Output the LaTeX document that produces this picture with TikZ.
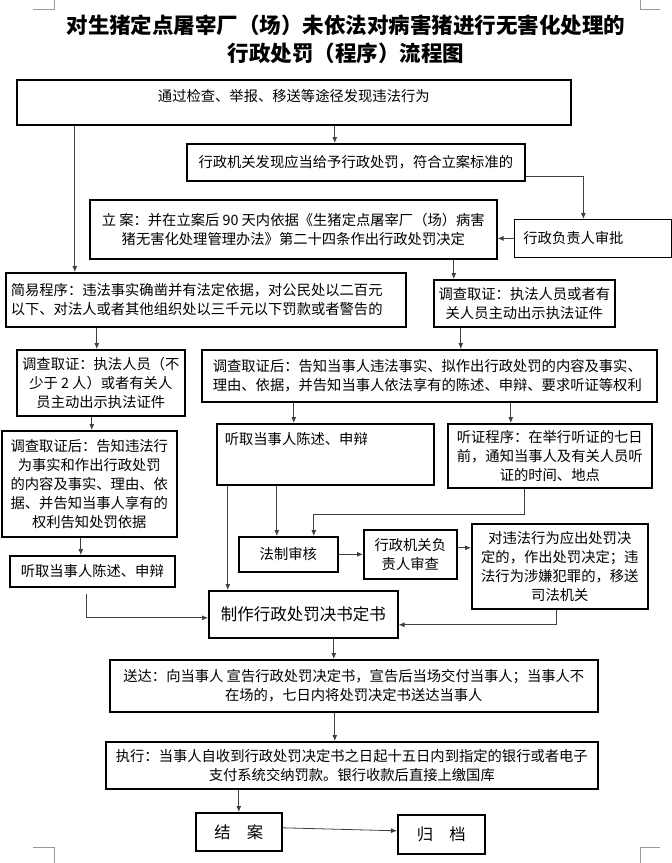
\documentclass[tikz,border=0pt]{standalone}
\usepackage{fontspec}
\setmainfont{Noto Sans CJK SC}
\usepackage{tikz}
\usetikzlibrary{%
  arrows.meta%
}

\begin{document}
\begin{tikzpicture}[x=1pt,y=-1pt,
    box/.style={draw=black,line width=1.6pt,anchor=north west,align=center,
      inner sep=2pt,font=\fontsize{14.3pt}{19pt}\selectfont},
    thinbox/.style={box,line width=0.8pt},
    arr/.style={draw=black!75,line width=0.8pt,-{Latex[length=6pt,width=5pt]}}]
      \useasboundingbox (0,0) rectangle (672,863);
      % page corner marks
      \draw [black!40,line width=0.6pt] (33,9) -- (54,9) -- (54,0) (660,9) -- (640,9) -- (640,0);
      \draw [black!40,line width=0.6pt] (33,847) -- (54,847) -- (54,863) (660,847) -- (640,847) -- (640,863);
      \node [align=center,font=\fontsize{21.5pt}{28pt}\selectfont\bfseries] (title) at (346,39)
        {对生猪定点屠宰厂（场）未依法对病害猪进行无害化处理的\\行政处罚（程序）流程图};
      \node [box,minimum width=554pt,inner ysep=0pt,text height=21.5pt,text depth=23.5pt] (find) at (16,79)
        {通过检查、举报、移送等途径发现违法行为};
      \node [box,minimum width=338pt,minimum height=37pt] (found) at (186,143)
        {行政机关发现应当给予行政处罚，符合立案标准的};
      \node [thinbox,minimum height=38pt,text width=139pt,inner xsep=9pt,align=left] (approve) at (514,219)
        {行政负责人审批};
      \node [box,minimum width=407pt,minimum height=59pt] (filing) at (89,199)
        {立\ 案：并在立案后 90 天内依据《生猪定点屠宰厂（场）病害\\猪无害化处理管理办法》第二十四条作出行政处罚决定};
      \node [box,minimum height=54pt,text width=390pt,inner xsep=5pt,align=left] (simple) at (5,272)
        {简易程序：违法事实确凿并有法定依据，对公民处以二百元\\以下、对法人或者其他组织处以三千元以下罚款或者警告的};
      \node [box,minimum width=181pt,minimum height=47pt] (invest) at (433,279)
        {调查取证：执法人员或者有\\关人员主动出示执法证件};
      \node [box,minimum width=168pt,minimum height=66pt] (invest2) at (16,349)
        {调查取证：执法人员（不\\少于 2 人）或者有关人\\员主动出示执法证件};
      \node [box,minimum height=52pt,text width=433pt,inner xsep=11pt,align=left] (notify) at (201,349)
        {调查取证后：告知当事人违法事实、拟作出行政处罚的内容及事实、\\理由、依据，并告知当事人依法享有的陈述、申辩、要求听证等权利};
      \node [box,minimum width=175pt,minimum height=106pt] (notify2) at (1,430)
        {调查取证后：告知违法行\\为事实和作出行政处罚\\的内容及事实、理由、依\\据、并告知当事人享有的\\权利告知处罚依据};
      \node [box,minimum width=165pt,minimum height=31pt] (hear2) at (9,555) {听取当事人陈述、申辩};
      \node [box,text width=201pt,inner xsep=8pt,align=left,inner ysep=0pt,text height=20.5pt,text depth=40.5pt] (hear) at (216,423)
        {听取当事人陈述、申辩};
      \node [box,minimum width=204pt,minimum height=64pt] (hearing) at (447,423)
        {听证程序：在举行听证的七日\\前，通知当事人及有关人员听\\证的时间、地点};
      \node [box,minimum width=99pt,minimum height=35pt] (legal) at (238,536) {法制审核};
      \node [box,minimum width=93pt,minimum height=49pt] (chief) at (363,529) {行政机关负\\责人审查};
      \node [box,minimum width=176pt,minimum height=85pt] (decide) at (471,523)
        {对违法行为应出处罚决\\定的，作出处罚决定；违\\法行为涉嫌犯罪的，移送\\司法机关};
      \node [box,minimum width=189pt,minimum height=47pt,font=\fontsize{16.5pt}{20pt}\selectfont] (make) at (208,590)
        {制作行政处罚决书定书};
      \node [box,minimum width=488pt,minimum height=52pt] (deliver) at (109,659)
        {送达：向当事人 宣告行政处罚决定书，宣告后当场交付当事人；当事人不\\在场的，七日内将处罚决定书送达当事人};
      \node [box,minimum width=492pt,minimum height=47pt] (execute) at (105,741)
        {执行：当事人自收到行政处罚决定书之日起十五日内到指定的银行或者电子\\支付系统交纳罚款。银行收款后直接上缴国库};
      \node [box,minimum width=86pt,minimum height=38pt,font=\fontsize{16.3pt}{20pt}\selectfont] (close) at (195,812) {结　案};
      \node [box,minimum width=87pt,minimum height=39pt,font=\fontsize{16.3pt}{20pt}\selectfont] (archive) at (397,814) {归　档};
      % connectors
      \draw [arr] ([xshift=-21pt]found.north |- find.south) -- ([xshift=-21pt]found.north);
      \draw [arr] ([yshift=-14.5pt]found.east) -| ([xshift=-9.5pt]approve.north);
      \draw [arr] (approve.west) -- (approve.west -| filing.east);
      \draw [arr] ([xshift=-131pt]simple.north |- find.south) -- ([xshift=-131pt]simple.north);
      \draw [arr] ([xshift=-70.5pt]invest.north |- filing.south) -- ([xshift=-70.5pt]invest.north);
      \draw [arr] ([xshift=-4pt]invest2.north |- simple.south) -- ([xshift=-4pt]invest2.north);
      \draw [arr] ([xshift=-63.5pt]invest.south) -- ([xshift=-63.5pt]invest.south |- notify.north);
      \draw [arr] ([xshift=-9pt]invest2.south) -- ([xshift=-9pt]invest2.south |- notify2.north);
      \draw [arr] ([xshift=-8.5pt]notify2.south) -- ([xshift=-8.5pt]notify2.south |- hear2.north);
      \draw [arr] ([xshift=-5.5pt,yshift=-6pt]hear2.south) |- ([yshift=-3.5pt]make.west);
      \draw [arr] ([xshift=-31.5pt]hear.north |- notify.south) -- ([xshift=-31.5pt]hear.north);
      \draw [arr] ([xshift=-39pt]hearing.north |- notify.south) -- ([xshift=-39pt]hearing.north);
      \draw [arr] ([xshift=-97.5pt]hear.south) -- ([xshift=-97.5pt]hear.south |- make.north);
      \draw [arr] ([xshift=-48.5pt]hear.south) -- ([xshift=-48.5pt]hear.south |- legal.north);
      \draw [arr] ([xshift=-25pt]hearing.south) -- ++(0,26) -| ([xshift=25.5pt]legal.north);
      \draw [arr] (legal.east) -- (chief.west);
      \draw [arr] ([yshift=6.5pt]chief.east) -- ([yshift=6.5pt]chief.east -| decide.west);
      \draw [arr] ([xshift=-3pt]decide.south) |- ([yshift=-10.5pt]make.east);
      \draw [arr] ([xshift=30.5pt]make.south) -- ([xshift=30.5pt]make.south |- deliver.north);
      \draw [arr] ([xshift=-19pt]deliver.south) -- ([xshift=-19pt]deliver.south |- execute.north);
      \draw [arr] (close.north |- execute.south) -- (close.north);
      \draw [arr] ([yshift=4pt]close.east) -- ([yshift=3.5pt]archive.west);
    \end{tikzpicture}
\end{document}
